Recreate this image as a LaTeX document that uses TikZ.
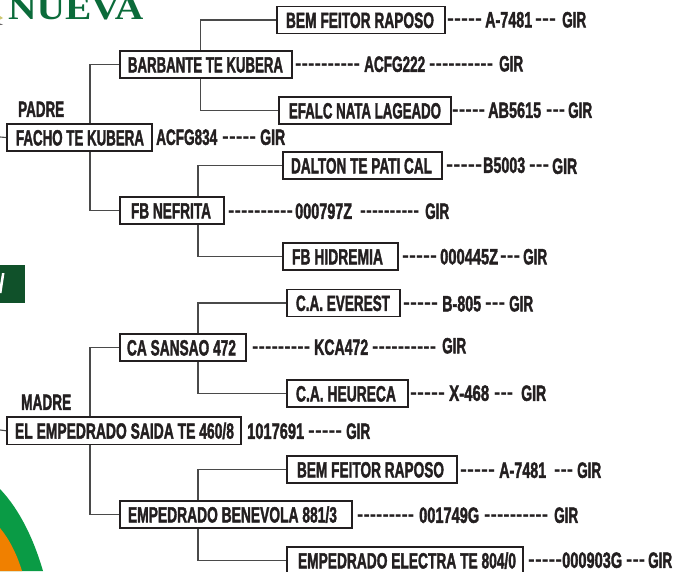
\documentclass[tikz,border=0pt]{standalone}
\usepackage{fontspec}
\usepackage{graphicx}
\newfontfamily\pf{Liberation Sans Bold}[FakeBold=2.2]
\newfontfamily\pd{Liberation Sans Bold}
\newfontfamily\nuevaf{Liberation Serif Bold}
\definecolor{ink}{HTML}{231F20}
\definecolor{wire}{HTML}{4A4A4A}
\definecolor{logog}{HTML}{0B6B3A}
\definecolor{bandg}{HTML}{10512A}
\definecolor{ringg}{HTML}{0A9B45}
\definecolor{ringo}{HTML}{F08000}
\newsavebox\fitbox
\newcommand\fitw[2]{\sbox\fitbox{\fontsize{22}{24}\pf #2}\pgfmathsetmacro\fitsx{#1pt/\wd\fitbox}\scalebox{\fitsx}[1]{\usebox\fitbox}}
\newcommand\fitd[2]{\sbox\fitbox{\fontsize{21}{24}\pd #2}\pgfmathsetmacro\fitsx{#1pt/\wd\fitbox}\scalebox{\fitsx}[1]{\usebox\fitbox}}
% \bx{name}{x1}{y1}{x2}{y2}{textx1}{textx2}{text}
\newcommand\bx[8]{\pgfmathsetmacro\bw{#4-#2}\pgfmathsetmacro\bpad{#6-#2}\pgfmathsetmacro\btw{#7-#6}%
\node[pbox,minimum width=\bw pt,minimum height=#5pt-#3pt] (#1) at ({(#2+#4)/2},{(#3+#5)/2}) {\makebox[\bw pt][l]{\hspace{\bpad pt}\raisebox{0pt}[15.8pt][0pt]{\fitw{\btw}{#8}}}};}
% \lb{name}{x1}{x2}{ycentre}{text}
\newcommand\lb[5]{\pgfmathsetmacro\ltw{#3-#2}\node[ptext] (#1) at (#2,#4+7.8) {\fitw{\ltw}{#5}};}
% \ld: a run of hyphens
\newcommand\ld[5]{\pgfmathsetmacro\ltw{#3-#2}\node[ptext] (#1) at (#2,#4+6) {\fitd{\ltw}{#5}};}
\tikzset{
 pbox/.style={draw=ink,line width=1.7pt,fill=white,inner sep=0pt,text=ink},
 ptext/.style={anchor=base west,inner sep=0pt,text=ink},
 wirel/.style={draw=wire,line width=1.1pt},
}
\begin{document}
\begin{tikzpicture}[x=1pt,y=-1pt]
\useasboundingbox (0,0) rectangle (675,571);
\clip (0,0) rectangle (675,571);
\fill[white] (0,0) rectangle (675,571);
% decoration
\node[anchor=base west,inner sep=0pt,text=logog] (nueva) at (8,19) {\scalebox{1.16}[1]{\fontsize{34}{34}\nuevaf NUEVA}};
\fill[olive!45] (0,16) -- (3,18) -- (0,19.5) -- cycle;
\fill[ink!70] (0,23.5) -- (3,24.5) -- (0,25) -- cycle;
\fill[bandg] (0,265) rectangle (25,303);
\fill[white] (0,293) -- (1.5,293) -- (4.5,273) -- (2,273) -- (0,285) -- cycle;
\fill[ringg] (0,489) .. controls (20,510) and (34,540) .. (43,571) -- (0,571) -- cycle;
\fill[ringo] (0,528) .. controls (10,540) and (17,555) .. (22,571) -- (0,571) -- cycle;
% free ends
\coordinate (sf) at (0,137);
\coordinate (sm) at (0,430);
\bx{facho}{7}{124}{152}{151}{16}{144}{FACHO TE KUBERA}
\bx{barb}{120}{51}{292}{78}{128}{283}{BARBANTE TE KUBERA}
\bx{bem}{277}{6.5}{445}{33.5}{286}{434}{BEM FEITOR RAPOSO}
\bx{efalc}{279}{97}{451}{124}{289}{441}{EFALC NATA LAGEADO}
\bx{dalton}{283}{152}{442}{179}{291}{432}{DALTON TE PATI CAL}
\bx{nefr}{120}{197}{224}{224}{131}{211}{FB NEFRITA}
\bx{hidr}{283}{243}{398}{270}{292}{383}{FB HIDREMIA}
\bx{ever}{287}{289.5}{400}{316.5}{296}{390}{C.A. EVEREST}
\bx{sans}{120}{334}{246}{361}{127}{236}{CA SANSAO 472}
\bx{heur}{287}{380}{408}{407}{296}{396}{C.A. HEURECA}
\bx{elemp}{7}{417}{241}{444.5}{15}{234}{EL EMPEDRADO SAIDA TE 460/8}
\bx{bem2}{287}{456}{457}{483}{297}{444}{BEM FEITOR RAPOSO}
\bx{bene}{120}{501}{352}{528}{128}{337}{EMPEDRADO BENEVOLA 881/3}
\bx{elec}{287}{547}{523}{574}{298}{516}{EMPEDRADO ELECTRA TE 804/0}
% connectors
\draw[wirel] (sf) -- (facho.west);
\draw[wirel] (sm) -- (elemp.west);
\draw[wirel] (facho.north -| 90,0) |- (barb.west);
\draw[wirel] (facho.south -| 90,0) |- (nefr.west);
\draw[wirel] (elemp.north -| 90,0) |- (sans.west);
\draw[wirel] (elemp.south -| 90,0) |- (bene.west);
\draw[wirel] (barb.north -| 200.5,0) |- (bem.west);
\draw[wirel] (barb.south -| 200.5,0) |- (efalc.west);
\draw[wirel] (nefr.north -| 198,0) |- (dalton.west);
\draw[wirel] (nefr.south -| 198,0) |- (hidr.west);
\draw[wirel] (sans.north -| 198,0) |- (ever.west);
\draw[wirel] (sans.south -| 198,0) |- (heur.west);
\draw[wirel] (bene.north -| 198,0) |- (bem2.west);
\draw[wirel] (bene.south -| 198,0) |- (elec.west);
% labels
\lb{padre}{18}{64}{109}{PADRE}
\lb{madre}{21}{71}{402}{MADRE}
% rows
\ld{a1}{447}{482}{19.5}{-----}\lb{a2}{485}{532}{19.5}{A-7481}\ld{a3}{535}{556}{19.5}{---}\lb{a4}{562}{586}{19.5}{GIR}
\ld{b1}{295}{360}{64}{----------}\lb{b2}{364}{425}{64}{ACFG222}\ld{b3}{429}{493}{64}{----------}\lb{b4}{499}{523}{63.5}{GIR}
\ld{c1}{452}{485}{110}{-----}\lb{c2}{488}{541}{110}{AB5615}\ld{c3}{546}{565}{110}{---}\lb{c4}{568}{592}{110}{GIR}
\lb{d2}{156}{217}{137}{ACFG834}\ld{d3}{222}{256}{137}{-----}\lb{d4}{260}{285}{137}{GIR}
\ld{e1}{446}{482}{165}{-----}\lb{e2}{483}{525}{165}{B5003}\ld{e3}{529}{549}{165}{---}\lb{e4}{552}{577}{166}{GIR}
\ld{f1}{228}{293}{211}{----------}\lb{f2}{295}{352}{211}{000797Z}\ld{f3}{360}{419}{211}{----------}\lb{f4}{425}{449}{211}{GIR}
\ld{g1}{402}{437}{256.5}{-----}\lb{g2}{440}{498}{256.5}{000445Z}\ld{g3}{500}{520}{256.5}{---}\lb{g4}{523}{547}{256.5}{GIR}
\ld{h1}{403}{438}{303.5}{-----}\lb{h2}{442}{481}{303.5}{B-805}\ld{h3}{485}{505}{303.5}{---}\lb{h4}{509}{533}{303.5}{GIR}
\ld{i1}{252}{310}{347}{---------}\lb{i2}{314}{368}{347}{KCA472}\ld{i3}{372}{436}{347}{----------}\lb{i4}{442}{466}{345.5}{GIR}
\ld{j1}{410}{445}{393}{-----}\lb{j2}{449}{489}{393}{X-468}\ld{j3}{494}{513}{393}{---}\lb{j4}{521}{546}{393}{GIR}
\lb{k2}{247}{304}{431}{1017691}\ld{k3}{308}{342}{431}{-----}\lb{k4}{346}{370}{431}{GIR}
\ld{l1}{460}{495}{470}{-----}\lb{l2}{499}{546}{470}{A-7481}\ld{l3}{554}{573}{470}{---}\lb{l4}{577}{601}{470}{GIR}
\ld{m1}{357}{414}{515}{---------}\lb{m2}{419}{479}{515}{001749G}\ld{m3}{484}{548}{515}{----------}\lb{m4}{554}{578}{515}{GIR}
\ld{n1}{528}{562}{560}{-----}\lb{n2}{562}{622}{560}{000903G}\ld{n3}{626}{645}{560}{---}\lb{n4}{648}{672}{560}{GIR}
\end{tikzpicture}
\end{document}
